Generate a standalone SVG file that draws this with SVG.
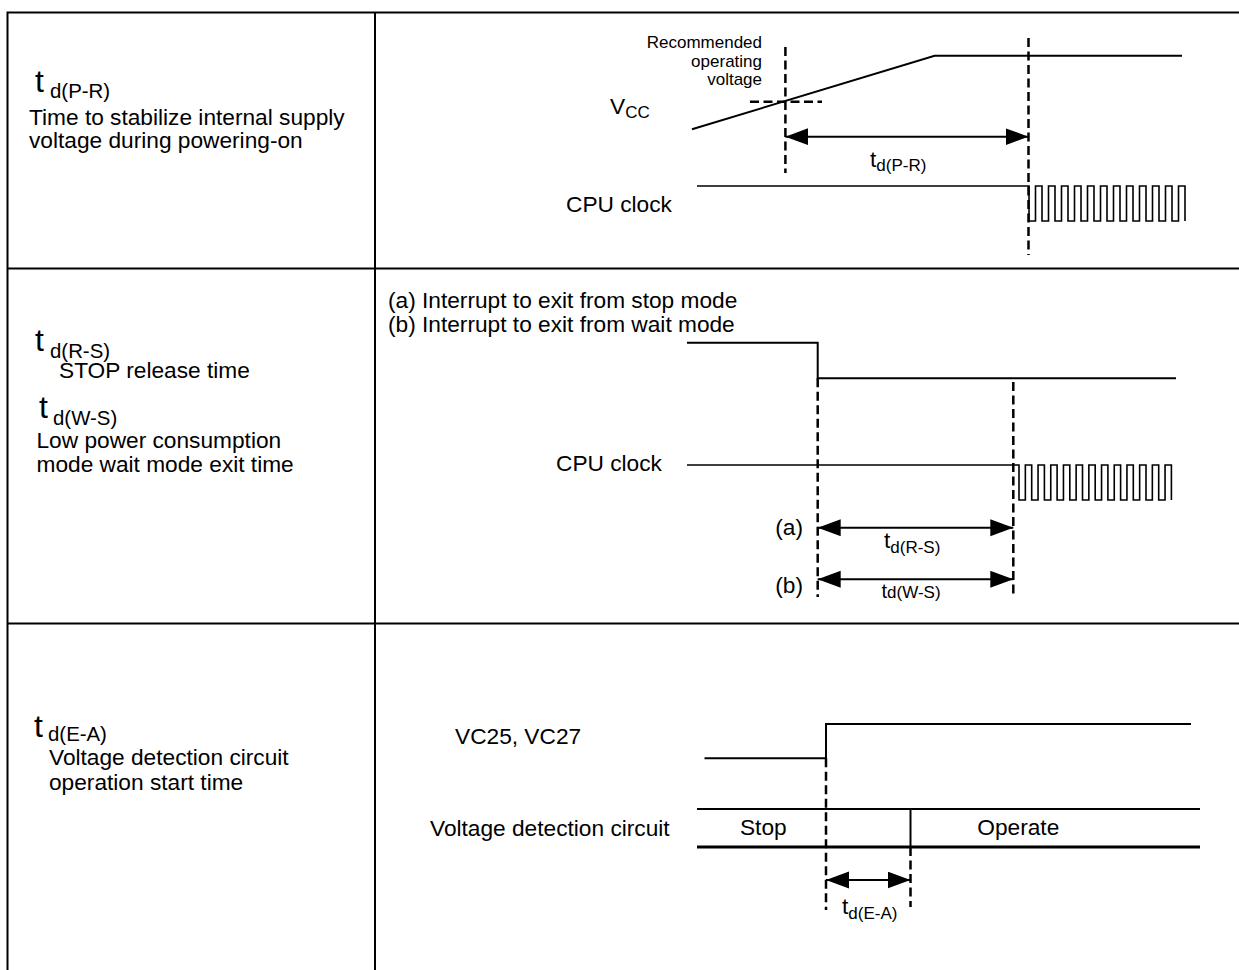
<svg xmlns="http://www.w3.org/2000/svg" width="1239" height="970" viewBox="0 0 1239 970">
<style>
text{font-family:"Liberation Sans",Arial,Helvetica,sans-serif;fill:#000}
.b{font-size:22.7px}
.sm{font-size:17px}
.rec{font-size:17px}
.bigt{font-size:32px}
.lsub{font-size:20.4px}
.grid{stroke:#000;stroke-width:2;fill:none}
.sig{stroke:#000;stroke-width:2;fill:none}
.clk{stroke:#000;stroke-width:1.6;fill:none}
.dash{stroke:#000;stroke-width:2.5;stroke-dasharray:9 4.5;fill:none}
.arr{stroke:#000;stroke-width:2;fill:none;marker-start:url(#ah);marker-end:url(#ah)}
</style>
<defs>
<marker id="ah" markerUnits="userSpaceOnUse" markerWidth="24" markerHeight="18" refX="23" refY="8.5" orient="auto-start-reverse">
<path d="M0,0 L23,8.5 L0,17 z" fill="#000"/>
</marker>
</defs>
<rect width="1239" height="970" fill="#fff"/>
<g id="table" class="grid">
<path d="M7.5,970 V12.5 H1239"/>
<path d="M375,12.5 V970"/>
<path d="M7.5,268.5 H1239"/>
<path d="M7.5,623.5 H1239"/>
</g>
<g id="row1-label">
<text class="bigt" x="35" y="92">t</text>
<text class="lsub" x="50" y="98">d(P-R)</text>
<text class="b" x="29" y="125">Time to stabilize internal supply</text>
<text class="b" x="29" y="148">voltage during powering-on</text>
</g>
<g id="row2-label">
<text class="bigt" x="35" y="351">t</text>
<text class="lsub" x="50" y="358">d(R-S)</text>
<text class="b" x="59" y="378">STOP release time</text>
<text class="bigt" x="39" y="418">t</text>
<text class="lsub" x="53" y="425">d(W-S)</text>
<text class="b" x="36.5" y="448">Low power consumption</text>
<text class="b" x="36.5" y="472">mode wait mode exit time</text>
</g>
<g id="row3-label">
<text class="bigt" x="34" y="737">t</text>
<text class="lsub" x="48" y="741">d(E-A)</text>
<text class="b" x="49" y="765">Voltage detection circuit</text>
<text class="b" x="49" y="790">operation start time</text>
</g>
<g id="row1-diagram">
<text class="rec" x="762" y="48" text-anchor="end">Recommended</text>
<text class="rec" x="762" y="66.5" text-anchor="end">operating</text>
<text class="rec" x="762" y="85" text-anchor="end">voltage</text>
<text class="b" x="610" y="114">V<tspan class="sm" dy="4">CC</tspan></text>
<path id="vcc" class="sig" d="M692,129.3 L934.6,55.7 H1182"/>
<text class="b" x="566" y="211.7">CPU clock</text>
<path id="clk1" class="clk" d="M697,186 H1029 V221 h6.5V186h6.5V221 h6.5V186h6.5V221 h6.5V186h6.5V221 h6.5V186h6.5V221 h6.5V186h6.5V221 h6.5V186h6.5V221 h6.5V186h6.5V221 h6.5V186h6.5V221 h6.5V186h6.5V221 h6.5V186h6.5V221 h6.5V186h6.5V221 h6.5V186h6.5V221"/>
<text class="b" x="870" y="166.5">t<tspan class="sm" dy="4">d(P-R)</tspan></text>
</g>
<g id="row2-diagram">
<text class="b" x="388" y="308.3">(a) Interrupt to exit from stop mode</text>
<text class="b" x="388" y="331.7">(b) Interrupt to exit from wait mode</text>
<path id="intr" class="sig" d="M687,342.7 H817.7 V378.3 H1176"/>
<text class="b" x="556" y="471">CPU clock</text>
<path id="clk2" class="clk" d="M687,465 H1019 V500 h6.35V465h6.35V500 h6.35V465h6.35V500 h6.35V465h6.35V500 h6.35V465h6.35V500 h6.35V465h6.35V500 h6.35V465h6.35V500 h6.35V465h6.35V500 h6.35V465h6.35V500 h6.35V465h6.35V500 h6.35V465h6.35V500 h6.35V465h6.35V500 h6.35V465h6.35V500"/>
<text class="b" x="803" y="535" text-anchor="end">(a)</text>
<text class="b" x="803" y="593" text-anchor="end">(b)</text>
<text class="b" x="884" y="548">t<tspan class="sm" dy="4.5">d(R-S)</tspan></text>
<text x="881.5" y="598"><tspan style="font-size:20px">t</tspan><tspan class="sm">d(W-S)</tspan></text>
</g>
<g id="row3-diagram">
<text class="b" x="455" y="744">VC25, VC27</text>
<path id="vc25" class="sig" d="M704.5,758.3 H826 V724 H1191"/>
<text class="b" x="430" y="836">Voltage detection circuit</text>
<path class="sig" d="M697,809 H1200"/>
<path class="sig" style="stroke-width:3" d="M697,847 H1200"/>
<path class="sig" d="M910.5,809 V847"/>
<text class="b" x="763.3" y="835" text-anchor="middle">Stop</text>
<text class="b" x="1018.3" y="835" text-anchor="middle">Operate</text>
<text class="b" x="842" y="913.5">t<tspan class="sm" dy="5">d(E-A)</tspan></text>
</g>
<g id="connectors">
<path class="dash" d="M785.4,47 V173"/>
<path class="dash" d="M750,101.7 H822"/>
<path class="dash" d="M1028.5,38 V255"/>
<path class="dash" d="M817.7,378.3 V597"/>
<path class="dash" d="M1013.3,382 V594"/>
<path class="dash" d="M826,758.3 V910"/>
<path class="dash" d="M910.5,847 V907"/>
<path class="arr" d="M785.4,136.7 H1028.5"/>
<path class="arr" d="M817.7,527.7 H1013.3"/>
<path class="arr" d="M817.7,579.3 H1013.3"/>
<path class="arr" d="M826,880 H910.5"/>
</g>
</svg>
